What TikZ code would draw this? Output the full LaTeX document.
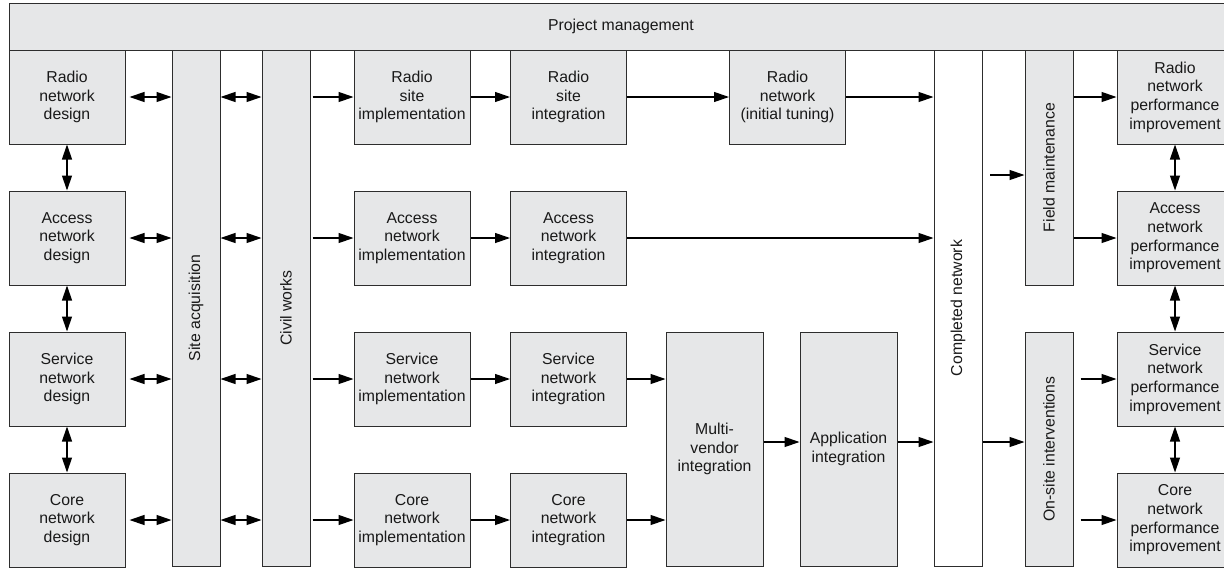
\documentclass[tikz,border=0pt]{standalone}
\usepackage{fontspec}
\setmainfont{Liberation Sans}
\usetikzlibrary{arrows.meta,calc}
\definecolor{boxfill}{RGB}{230,231,232}
\definecolor{linec}{RGB}{45,45,45}
\definecolor{txt}{RGB}{25,25,25}
\begin{document}
\begin{tikzpicture}[x=1pt,y=-1pt,
  box/.style={draw=linec, fill=boxfill, line width=1pt, inner sep=0pt, align=center,
    font=\fontsize{15.8pt}{18.7pt}\selectfont, text=txt},
  std/.style={box, minimum width=116pt, minimum height=94pt},
  col/.style={box, minimum width=48pt},
  wide/.style={box, minimum width=97pt, minimum height=234pt},
  vlab/.style={rotate=90, font=\fontsize{15.8pt}{18.7pt}\selectfont, text=txt, inner sep=0pt},
  tip/.tip={Triangle[length=15pt,width=10pt]},
  arr/.style={draw=black, line width=1.2pt, -tip},
  darr/.style={draw=black, line width=1.2pt, tip-tip},
]
\useasboundingbox (0,0) rectangle (1224,568);

% project management bar
\node[box, minimum width=1224pt, minimum height=47pt] (pm) at (621,26.5) {Project management};

% design column
\node[std] (d1) at (67,97)  {Radio\\network\\design};
\node[std] (d2) at (67,238) {Access\\network\\design};
\node[std] (d3) at (67,379) {Service\\network\\design};
\node[std] (d4) at (67,520) {Core\\network\\design};

% tall columns
\node[col, minimum height=516pt, label={[vlab]center:Site acquisition}] (sa) at (196,308) {};
\node[col, minimum height=516pt, label={[vlab]center:Civil works}] (cw) at (286,308) {};

% implementation
\node[std] (i1) at (412,97)  {Radio\\site\\implementation};
\node[std] (i2) at (412,238) {Access\\network\\implementation};
\node[std] (i3) at (412,379) {Service\\network\\implementation};
\node[std] (i4) at (412,520) {Core\\network\\implementation};

% integration
\node[std] (g1) at (568.5,97)  {Radio\\site\\integration};
\node[std] (g2) at (568.5,238) {Access\\network\\integration};
\node[std] (g3) at (568.5,379) {Service\\network\\integration};
\node[std] (g4) at (568.5,520) {Core\\network\\integration};

\node[std] (tune) at (787.5,97) {Radio\\network\\(initial tuning)};

\node[wide] (mv)  at (714.5,449) {Multi-\\vendor\\integration};
\node[wide] (app) at (848.5,449) {Application\\integration};

\node[col, fill=white, minimum height=516pt, label={[vlab]center:Completed network}] (cn) at (958,308) {};
\node[col, minimum height=235pt, label={[vlab]center:Field maintenance}] (fm) at (1049,167.5) {};
\node[col, minimum height=234pt, label={[vlab]center:On-site interventions}] (os) at (1049,449) {};

% performance improvement
\node[std] (p1) at (1175,97)  {Radio\\network\\performance\\improvement};
\node[std] (p2) at (1175,238) {Access\\network\\performance\\improvement};
\node[std] (p3) at (1175,379) {Service\\network\\performance\\improvement};
\node[std] (p4) at (1175,520) {Core\\network\\performance\\improvement};

% design <-> site acquisition <-> civil works -> implementation
\foreach \r/\i in {d1/i1,d2/i2,d3/i3,d4/i4}{
  \draw[darr] ($(\r.east)+(4,0)$) -- (\r.east -| sa.west);
  \draw[darr] (\r.east -| sa.east) -- (\r.east -| cw.west);
  \draw[arr] ($(cw.east |- \r.east)+(2,0)$) -- (\i);
}
% vertical links
\draw[darr] (d1) -- (d2);
\draw[darr] (d2) -- (d3);
\draw[darr] (d3) -- (d4);
\draw[darr] (p1) -- (p2);
\draw[darr] (p2) -- (p3);
\draw[darr] (p3) -- (p4);

% implementation -> integration
\draw[arr] (i1) -- (g1);
\draw[arr] (i2) -- (g2);
\draw[arr] (i3) -- (g3);
\draw[arr] (i4) -- (g4);

\draw[arr] (g1) -- (tune);
\draw[arr] (tune) -- (tune -| cn.west);
\draw[arr] (g2) -- (g2 -| cn.west);
\draw[arr] (g3) -- (g3 -| mv.west);
\draw[arr] (g4) -- (g4 -| mv.west);

\coordinate (a0) at ($(mv.east)+(0,-7)$);
\draw[arr] (a0) -- (a0 -| app.west);
\draw[arr] (a0 -| app.east) -- (a0 -| cn.west);
\draw[arr] (a0 -| cn.east) -- (a0 -| os.west);

\coordinate (f0) at (990,175);
\draw[arr] (f0) -- (f0 -| fm.west);

\draw[arr] (fm.east |- p1) -- (p1);
\draw[arr] (fm.east |- p2) -- (p2);
\draw[arr] ($(os.east |- p3)+(7,0)$) -- (p3);
\draw[arr] ($(os.east |- p4)+(7,0)$) -- (p4);
\end{tikzpicture}
\end{document}
